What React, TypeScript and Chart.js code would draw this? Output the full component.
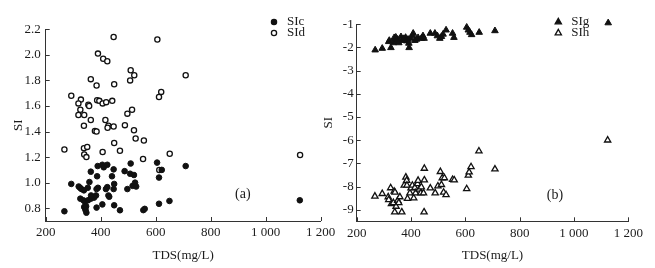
import React, { useEffect, useRef } from 'react';
import { Chart, registerables } from 'chart.js';

Chart.register(...registerables);

// ---------- data ----------
const xTicks = [200, 400, 600, 800, 1000, 1200];
const leftYTicks = [0.8, 1.0, 1.2, 1.4, 1.6, 1.8, 2.0, 2.2];
const rightYTicks = [-1, -2, -3, -4, -5, -6, -7, -8, -9];

const sicTds = [268, 293, 320, 325, 330, 339, 353, 359, 364, 387, 389, 406, 411, 424, 390, 385, 326, 337, 343, 354, 364, 376, 383, 340, 343, 345, 348, 385, 406, 419, 424, 428, 431, 441, 447, 449, 447, 449, 470, 487, 497, 509, 507, 521, 516, 525, 529, 555, 560, 605, 612, 622, 612, 650, 709, 1124, 347, 365];
const sicVals = [0.776, 0.99, 0.97, 0.96, 0.95, 0.94, 0.96, 1.005, 1.086, 1.05, 1.13, 1.14, 1.12, 1.14, 0.96, 0.95, 0.875, 0.862, 0.85, 0.862, 0.875, 0.883, 0.9, 0.81, 0.8, 0.785, 0.765, 0.805, 0.83, 0.95, 0.965, 0.9, 0.89, 1.05, 1.104, 0.99, 0.95, 0.823, 0.784, 1.09, 0.95, 1.15, 1.07, 1.06, 0.975, 1.0, 0.97, 0.785, 0.795, 1.157, 1.04, 1.1, 0.835, 0.857, 1.13, 0.862, 0.815, 0.9];

const sidTds = [447, 606, 390, 409, 424, 509, 522, 507, 709, 364, 385, 449, 620, 612, 293, 328, 319, 355, 358, 387, 395, 407, 420, 442, 326, 319, 340, 514, 497, 364, 417, 339, 428, 425, 447, 488, 379, 385, 521, 527, 557, 449, 268, 339, 351, 407, 470, 340, 348, 554, 651, 1125, 613];
const sidVals = [2.14, 2.12, 2.01, 1.97, 1.95, 1.88, 1.84, 1.8, 1.84, 1.81, 1.76, 1.77, 1.71, 1.67, 1.68, 1.65, 1.62, 1.61, 1.6, 1.645, 1.64, 1.62, 1.63, 1.64, 1.57, 1.53, 1.53, 1.57, 1.54, 1.49, 1.49, 1.445, 1.445, 1.43, 1.44, 1.45, 1.405, 1.4, 1.41, 1.346, 1.33, 1.31, 1.26, 1.27, 1.28, 1.24, 1.25, 1.22, 1.2, 1.185, 1.226, 1.216, 1.1];

const sigTds = [268, 294, 318, 320, 326, 335, 338, 345, 351, 355, 363, 368, 380, 384, 389, 392, 393, 408, 405, 414, 420, 426, 438, 444, 448, 471, 488, 497, 506, 512, 518, 529, 553, 558, 605, 611, 617, 623, 651, 709, 1126, 344, 372, 398];
const sigVals = [-2.11, -2.04, -1.75, -1.7, -2.01, -1.8, -1.58, -1.75, -1.65, -1.8, -1.54, -1.7, -1.57, -1.72, -1.65, -1.82, -2.01, -1.39, -1.5, -1.7, -1.65, -1.58, -1.61, -1.5, -1.61, -1.39, -1.39, -1.5, -1.61, -1.53, -1.43, -1.25, -1.39, -1.57, -1.13, -1.25, -1.35, -1.45, -1.35, -1.28, -0.94, -1.56, -1.62, -1.6];

const sihTds = [267, 294, 316, 318, 325, 328, 335, 338, 341, 340, 345, 351, 355, 359, 366, 375, 381, 384, 385, 387, 396, 400, 405, 410, 414, 417, 424, 426, 430, 436, 438, 446, 449, 449, 448, 471, 489, 499, 508, 512, 515, 523, 520, 529, 553, 559, 605, 611, 614, 621, 650, 709, 1124];
const sihVals = [-8.42, -8.31, -8.45, -8.57, -8.06, -8.75, -8.7, -8.21, -8.25, -9.1, -8.86, -8.6, -8.7, -8.45, -9.1, -7.95, -7.6, -7.74, -7.95, -8.52, -8.28, -8.07, -7.95, -8.5, -8.05, -8.28, -7.88, -7.74, -8.12, -8.28, -8.02, -8.28, -7.22, -7.72, -9.1, -8.07, -8.28, -7.98, -7.36, -7.92, -7.63, -7.63, -8.25, -8.36, -7.7, -7.72, -8.1, -7.52, -7.38, -7.15, -6.47, -7.25, -6.0];

// ---------- styling ----------
const FONT = "'Liberation Serif', 'Times New Roman', serif";
const TEXT = '#1c1c1c';
const AXIS = '#333333';

const pts = (xs: number[], ys: number[]) => xs.map((x, i) => ({ x, y: ys[i] }));

const fmtX = (v: number) => {
  if (v >= 1000) {
    const th = Math.floor(v / 1000);
    const rest = String(v % 1000).padStart(3, '0');
    return th + ' ' + rest;
  }
  return String(v);
};

function drawMarker(ctx: CanvasRenderingContext2D, style: string, filled: boolean, x: number, y: number, r: number) {
  ctx.save();
  ctx.beginPath();
  if (style === 'circle') {
    ctx.arc(x, y, r, 0, Math.PI * 2);
  } else {
    for (let k = 0; k < 3; k++) {
      const a = -Math.PI / 2 + (k * 2 * Math.PI) / 3;
      const px = x + Math.cos(a) * r;
      const py = y + Math.sin(a) * r;
      if (k === 0) ctx.moveTo(px, py);
      else ctx.lineTo(px, py);
    }
    ctx.closePath();
  }
  ctx.fillStyle = filled ? '#111' : '#fff';
  ctx.fill();
  ctx.lineWidth = 1.3;
  ctx.strokeStyle = '#111';
  ctx.stroke();
  ctx.restore();
}

type LegendItem = { label: string; style: string; filled: boolean };

function makeDecor(
  legend: LegendItem[],
  legendX: number,
  legendY: number[],
  panelLabel: string,
  labelPos: { x: number; y: number },
  yTickVals: number[]
) {
  return {
    id: 'decor',
    afterDraw(chart: any) {
      const { ctx, chartArea, scales } = chart;
      ctx.save();
      // inward tick marks
      ctx.strokeStyle = AXIS;
      ctx.lineWidth = 1;
      ctx.beginPath();
      xTicks.forEach((v) => {
        const px = Math.round(scales.x.getPixelForValue(v)) + 0.5;
        ctx.moveTo(px, chartArea.bottom);
        ctx.lineTo(px, chartArea.bottom - 4);
      });
      yTickVals.forEach((v) => {
        const py = Math.round(scales.y.getPixelForValue(v)) + 0.5;
        ctx.moveTo(chartArea.left, py);
        ctx.lineTo(chartArea.left + 4, py);
      });
      ctx.stroke();
      // legend
      ctx.font = `13px ${FONT}`;
      ctx.fillStyle = TEXT;
      ctx.textBaseline = 'middle';
      ctx.textAlign = 'left';
      legend.forEach((it, i) => {
        drawMarker(ctx, it.style, it.filled, legendX, legendY[i], it.style === 'circle' ? 2.6 : 3.6);
        ctx.fillStyle = TEXT;
        ctx.fillText(it.label, legendX + 13, legendY[i]);
      });
      // panel label
      ctx.font = `14px ${FONT}`;
      ctx.textAlign = 'center';
      ctx.fillText(panelLabel, scales.x.getPixelForValue(labelPos.x), scales.y.getPixelForValue(labelPos.y));
      ctx.restore();
    },
  };
}

function buildConfig(opts: {
  datasets: any[];
  yMin: number;
  yMax: number;
  yTicks: number[];
  yFmt: (v: number) => string;
  yWidth: number;
  xHeight: number;
  padTop: number;
  padRight: number;
  yTitlePad: number;
  yLabelPad: number;
  plugin: any;
}) {
  return {
    type: 'scatter',
    data: { datasets: opts.datasets },
    options: {
      animation: false,
      responsive: false,
      events: [],
      layout: { padding: { left: 0, top: opts.padTop, right: opts.padRight, bottom: 0 } },
      plugins: { legend: { display: false }, tooltip: { enabled: false } },
      scales: {
        x: {
          type: 'linear',
          position: 'bottom',
          min: 200,
          max: 1200,
          grid: { display: false, drawTicks: false },
          border: { display: true, color: AXIS, width: 1 },
          ticks: {
            autoSkip: false,
            maxRotation: 0,
            padding: 4,
            color: TEXT,
            font: { family: FONT, size: 13 },
            callback: (v: any) => fmtX(Number(v)),
          },
          title: {
            display: true,
            text: 'TDS(mg/L)',
            color: TEXT,
            font: { family: FONT, size: 13 },
            padding: { top: 0, bottom: 4.7 },
          },
          afterBuildTicks: (s: any) => {
            s.ticks = xTicks.map((v) => ({ value: v }));
          },
          afterFit: (s: any) => {
            s.height = opts.xHeight;
            s.paddingLeft = 0;
            s.paddingRight = 0;
          },
        },
        y: {
          type: 'linear',
          position: 'left',
          min: opts.yMin,
          max: opts.yMax,
          grid: { display: false, drawTicks: false },
          border: { display: true, color: AXIS, width: 1 },
          ticks: {
            autoSkip: false,
            padding: opts.yLabelPad,
            color: TEXT,
            font: { family: FONT, size: 13 },
            callback: (v: any) => opts.yFmt(Number(v)),
          },
          title: {
            display: true,
            text: 'SI',
            color: TEXT,
            font: { family: FONT, size: 13 },
            padding: { top: opts.yTitlePad, bottom: 0 },
          },
          afterBuildTicks: (s: any) => {
            s.ticks = opts.yTicks.map((v) => ({ value: v }));
          },
          afterFit: (s: any) => {
            s.width = opts.yWidth;
            s.paddingTop = 0;
            s.paddingBottom = 0;
          },
        },
      },
    },
    plugins: [opts.plugin],
  };
}

export default function App() {
  const leftRef = useRef<HTMLCanvasElement>(null);
  const rightRef = useRef<HTMLCanvasElement>(null);

  useEffect(() => {
    const left = new Chart(leftRef.current as HTMLCanvasElement, buildConfig({
      datasets: [
        {
          label: 'SIc',
          data: pts(sicTds, sicVals),
          pointStyle: 'circle',
          pointRadius: 2.8,
          pointBackgroundColor: '#111',
          pointBorderColor: '#111',
          pointBorderWidth: 1,
          clip: false,
        },
        {
          label: 'SId',
          data: pts(sidTds, sidVals),
          pointStyle: 'circle',
          pointRadius: 2.6,
          pointBackgroundColor: '#fff',
          pointBorderColor: '#111',
          pointBorderWidth: 1.3,
          clip: false,
        },
      ],
      yMin: 0.7,
      yMax: 2.2,
      yTicks: leftYTicks,
      yFmt: (v) => v.toFixed(1),
      yWidth: 45.7,
      xHeight: 47,
      padTop: 29.3,
      padRight: 345 - 320.7,
      yTitlePad: 11.2,
      yLabelPad: 5,
      plugin: makeDecor(
        [
          { label: 'SIc', style: 'circle', filled: true },
          { label: 'SId', style: 'circle', filled: false },
        ],
        274,
        [22, 33],
        '(a)',
        { x: 917, y: 0.906 },
        leftYTicks
      ),
    }) as any);

    const right = new Chart(rightRef.current as HTMLCanvasElement, buildConfig({
      datasets: [
        {
          label: 'SIg',
          data: pts(sigTds, sigVals),
          pointStyle: 'triangle',
          pointRadius: 3.8,
          pointBackgroundColor: '#111',
          pointBorderColor: '#111',
          pointBorderWidth: 1,
          clip: false,
        },
        {
          label: 'SIh',
          data: pts(sihTds, sihVals),
          pointStyle: 'triangle',
          pointRadius: 3.6,
          pointBackgroundColor: '#fff',
          pointBorderColor: '#111',
          pointBorderWidth: 1.3,
          clip: false,
        },
      ],
      yMin: -9.5,
      yMax: -1,
      yTicks: rightYTicks,
      yFmt: (v) => String(v),
      yWidth: 36.7,
      xHeight: 46.7,
      padTop: 24.3,
      padRight: 335 - 308.3,
      yTitlePad: 1.2,
      yLabelPad: 3,
      plugin: makeDecor(
        [
          { label: 'SIg', style: 'triangle', filled: true },
          { label: 'SIh', style: 'triangle', filled: false },
        ],
        558.3 - 320,
        [22, 33],
        '(b)',
        { x: 930, y: -8.39 },
        rightYTicks
      ),
    }) as any);

    return () => {
      left.destroy();
      right.destroy();
    };
  }, []);

  return (
    <div style={{ position: 'fixed', left: 0, top: 0, width: 655, height: 268, background: '#fff', overflow: 'hidden' }}>
      <canvas ref={leftRef} width={345} height={268} style={{ position: 'absolute', left: 0, top: 0, width: 345, height: 268 }} />
      <canvas ref={rightRef} width={335} height={268} style={{ position: 'absolute', left: 320, top: 0, width: 335, height: 268 }} />
    </div>
  );
}
